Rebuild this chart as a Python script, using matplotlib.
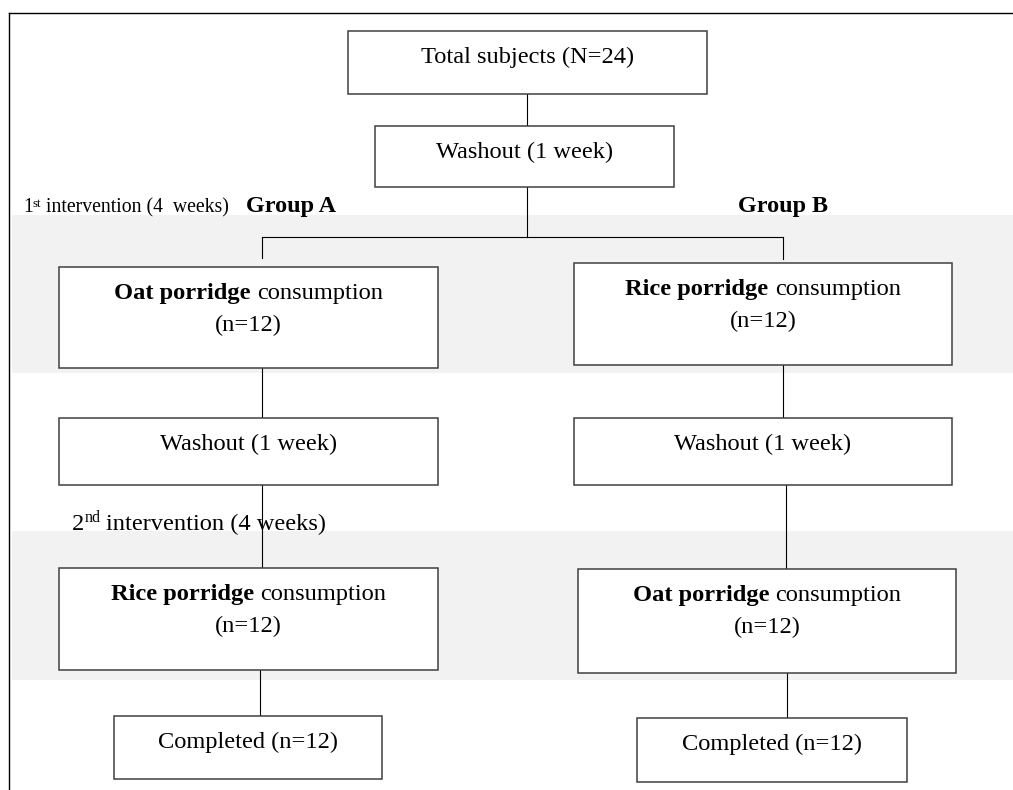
import matplotlib
matplotlib.use('Agg')
import matplotlib.pyplot as plt
from matplotlib.patches import Rectangle

plt.rcParams['font.family'] = ['Liberation Serif', 'DejaVu Serif']

# data
total_n = 24
groups = ['Group A', 'Group B']
first_food = ['Oat porridge', 'Rice porridge']
second_food = ['Rice porridge', 'Oat porridge']
group_n = [12, 12]
completed_n = [12, 12]
washout_weeks = 1
intervention_weeks = 4

FS = 17.6          # box text size (pt)
EDGE = '#404040'
BAND = '#f2f2f2'

fig = plt.figure(figsize=(10.13, 7.9), dpi=100)
ax = fig.add_axes([0, 0, 1, 1])
ax.set_xlim(0, 1013)
ax.set_ylim(790, 0)   # 1 unit = 1 pixel, y down
ax.axis('off')
renderer = fig.canvas.get_renderer()


def width(s, size, weight='normal'):
    t = ax.text(0, 0, s, fontsize=size, fontweight=weight)
    w = t.get_window_extent(renderer=renderer).width
    t.remove()
    return w


def runs(x, y, parts, align='center'):
    '''parts: (text, size, weight, rise) ; x is centre or left edge, y is baseline'''
    items = []
    total = 0
    for s, size, weight, rise in parts:
        lead = len(s) - len(s.lstrip(' '))
        gap = lead * (width('| |', size, weight) - width('||', size, weight)) if lead else 0
        s = s.strip(' ')
        w = width(s, size, weight)
        items.append((s, size, weight, rise, total + gap))
        total += gap + w
    x0 = x - total / 2 if align == 'center' else x
    for s, size, weight, rise, off in items:
        ax.text(x0 + off, y - rise, s, fontsize=size, fontweight=weight,
                va='baseline', ha='left', color='black', zorder=5)


def box(x0, x1, y0, y1, lines):
    ax.add_patch(Rectangle((x0, y0), x1 - x0, y1 - y0, fc='white', ec=EDGE, lw=1.1, zorder=3))
    xc = (x0 + x1) / 2
    for i, parts in enumerate(lines):
        runs(xc, y0 + 32 + 32 * i, parts)


def vline(x, y0, y1):
    ax.plot([x, x], [y0, y1], color='black', lw=0.8, zorder=2)


def hline(y, x0, x1):
    ax.plot([x0, x1], [y, y], color='black', lw=0.8, zorder=2)


# shaded intervention bands
ax.add_patch(Rectangle((12, 215), 1013 - 12, 373 - 215, fc=BAND, ec='none', zorder=0))
ax.add_patch(Rectangle((12, 531), 1013 - 12, 680 - 531, fc=BAND, ec='none', zorder=0))

# outer frame (top and left only)
ax.plot([9, 9], [13, 790], color='black', lw=1.0, zorder=1)
ax.plot([9, 1013], [13, 13], color='black', lw=1.0, zorder=1)

# top boxes
box(348, 707, 31, 94, [[(f'Total subjects (N={total_n})', FS, 'normal', 0)]])
box(375, 674, 126, 187, [[(f'Washout ({washout_weeks} week)', FS, 'normal', 0)]])
vline(527, 94, 126)
vline(527, 187, 237)
hline(237, 262, 783)

# column layout: left/right x-ranges and connector x
cols = [
    dict(cx=[262, 262, 262, 260], b1=(59, 438, 267, 368), w=(59, 438, 418, 485),
         b2=(59, 438, 568, 670), d=(114, 382, 716, 779), top=258),
    dict(cx=[783, 783, 786, 787], b1=(574, 952, 263, 365), w=(574, 952, 418, 485),
         b2=(578, 956, 569, 673), d=(637, 907, 718, 782), top=259),
]

for i, c in enumerate(cols):
    vline(c['cx'][0], 237, c['top'])
    box(*c['b1'], [[(first_food[i], FS, 'bold', 0), (' consumption', FS, 'normal', 0)],
                   [(f'(n={group_n[i]})', FS, 'normal', 0)]])
    vline(c['cx'][1], c['b1'][3], c['w'][2])
    box(*c['w'], [[(f'Washout ({washout_weeks} week)', FS, 'normal', 0)]])
    vline(c['cx'][2], c['w'][3], c['b2'][2])
    box(*c['b2'], [[(second_food[i], FS, 'bold', 0), (' consumption', FS, 'normal', 0)],
                   [(f'(n={group_n[i]})', FS, 'normal', 0)]])
    vline(c['cx'][3], c['b2'][3], c['d'][2])
    box(*c['d'], [[(f'Completed (n={completed_n[i]})', FS, 'normal', 0)]])

# group labels
runs(291, 212, [(groups[0], 17.4, 'bold', 0)])
runs(783, 212, [(groups[1], 17.4, 'bold', 0)])

# intervention period labels
runs(23, 212, [('1', 14.2, 'normal', 0), ('st', 9.2, 'normal', 5),
               (f' intervention ({intervention_weeks}  weeks)', 14.2, 'normal', 0)], align='left')
runs(72, 530, [('2', FS, 'normal', 0), ('nd', 11.5, 'normal', 8),
               (f' intervention ({intervention_weeks} weeks)', FS, 'normal', 0)], align='left')

fig.savefig('out.png', dpi=100, facecolor='white')
